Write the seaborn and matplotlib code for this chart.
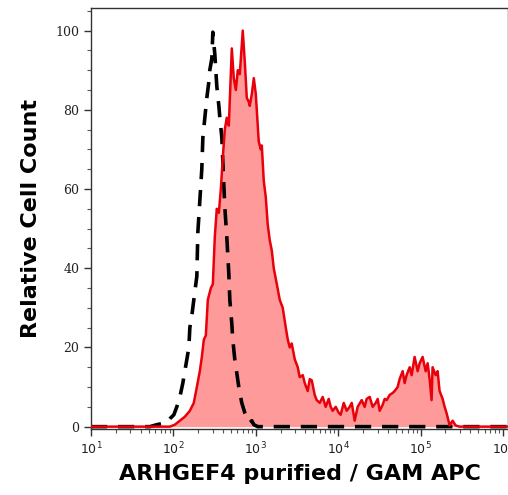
import numpy as np
import pandas as pd
import seaborn as sns
import matplotlib.pyplot as plt
from matplotlib.ticker import MultipleLocator, LogLocator

# red (stained) histogram: log10 fluorescence vs relative count
red_log10 = [1.000, 1.958, 2.018, 2.079, 2.139, 2.200, 2.248, 2.285, 2.321, 2.345,
             2.370, 2.394, 2.418, 2.455, 2.479, 2.503, 2.527, 2.552, 2.576, 2.600,
             2.624, 2.648, 2.673, 2.709, 2.733, 2.758, 2.782, 2.806, 2.842, 2.867,
             2.891, 2.915, 2.927, 2.952, 2.976, 3.000, 3.012, 3.036, 3.061, 3.073,
             3.097, 3.121, 3.145, 3.170, 3.194, 3.218, 3.255, 3.291, 3.327, 3.364,
             3.388, 3.412, 3.436, 3.473, 3.509, 3.533, 3.570, 3.594, 3.630, 3.655,
             3.679, 3.715, 3.739, 3.776, 3.812, 3.848, 3.885, 3.909, 3.933, 3.970,
             4.006, 4.030, 4.067, 4.103, 4.139, 4.164, 4.200, 4.236, 4.285, 4.321,
             4.345, 4.382, 4.418, 4.455, 4.479, 4.503, 4.539, 4.564, 4.588, 4.624,
             4.661, 4.685, 4.721, 4.745, 4.782, 4.806, 4.830, 4.867, 4.891, 4.927,
             4.964, 4.988, 5.024, 5.061, 5.085, 5.109, 5.133, 5.145, 5.182, 5.206,
             5.230, 5.267, 5.291, 5.315, 5.352, 5.388, 5.424, 5.473, 6.055]
red_count = [0, 0, 0.5, 1.5, 2.5, 4, 6, 10, 14, 17.5,
             22, 23, 32, 35, 36, 48, 55, 54, 60, 68,
             75, 78, 76, 95.5, 88, 85, 90, 89, 100, 92,
             83, 82, 81, 84, 88, 84, 80, 72, 70, 71,
             62, 58, 51, 47, 44.5, 40, 36, 32, 30, 25,
             22, 20, 21, 17, 15, 12.5, 13, 11, 9, 12,
             11.7, 8, 6.7, 6, 7.5, 5, 7, 5, 4, 5,
             3.5, 3, 6, 4, 5, 6, 1.5, 5, 6.7, 5,
             7, 7.5, 5, 6, 7, 4, 5.5, 7, 6.7, 8,
             8.5, 9, 10, 12, 14, 11, 13, 15, 13, 17.6,
             14, 16, 17.6, 14, 16, 12, 6.7, 15, 13, 14,
             9, 7, 5, 3.4, 0.3, 1.5, 0.3, 0, 0]

# black dashed (control) histogram
black_log10 = [1.000, 1.715, 1.800, 1.873, 1.921, 1.958, 2.006, 2.042, 2.079, 2.115,
               2.139, 2.164, 2.188, 2.200, 2.224, 2.248, 2.285, 2.297, 2.321, 2.345,
               2.358, 2.382, 2.406, 2.430, 2.442, 2.467, 2.479, 2.503, 2.527, 2.552,
               2.564, 2.588, 2.600, 2.624, 2.648, 2.673, 2.685, 2.709, 2.721, 2.745,
               2.770, 2.794, 2.830, 2.867, 2.903, 2.927, 2.952, 2.976, 3.024, 6.055]
black_count = [0, 0, 0.5, 0.8, 1, 2, 3, 5, 7.5, 11,
               14, 17, 20, 25, 28, 32, 38, 49, 57, 65,
               73, 78, 83, 87, 90, 93, 99.6, 94, 86, 81,
               78, 73, 67, 55.5, 48, 38.6, 32, 26, 22, 17,
               13.5, 10, 6, 3.5, 2, 1, 1.5, 0.5, 0, 0]

red = pd.DataFrame({"x": 10 ** np.array(red_log10), "y": red_count})
black = pd.DataFrame({"x": 10 ** np.array(black_log10), "y": black_count})

sns.set_style("ticks")
plt.rcParams['mathtext.fontset'] = 'dejavuserif'

fig = plt.figure(figsize=(5.08, 4.95), dpi=100)
ax = fig.add_axes([0.179, 0.1333, 0.821, 0.8505])

ax.fill_between(red["x"], red["y"], color="#ff9a9a", linewidth=0, zorder=1)
sns.lineplot(data=black, x="x", y="y", ax=ax, color="black", linewidth=2.6,
             estimator=None, sort=False, zorder=2)
ax.lines[-1].set_dashes((4.5, 3))
sns.lineplot(data=red, x="x", y="y", ax=ax, color="#e8000b", linewidth=1.8,
             estimator=None, sort=False, zorder=3)

ax.set_xscale("log")
ax.set_xlim(10 ** 1, 10 ** 6.06)
ax.set_ylim(-0.6, 105.7)
ax.xaxis.set_major_locator(LogLocator(base=10, numticks=10))
ax.xaxis.set_minor_locator(LogLocator(base=10, subs=np.arange(2, 10), numticks=20))
ax.yaxis.set_major_locator(MultipleLocator(20))
ax.yaxis.set_minor_locator(MultipleLocator(5))

ax.tick_params(axis="both", which="major", length=5, width=1, color="#333333",
               labelsize=9, labelcolor="#222222")
ax.tick_params(axis="both", which="minor", length=3, width=0.8, color="#555555")
for lab in ax.get_yticklabels():
    lab.set_family("DejaVu Serif")
for s in ax.spines.values():
    s.set_color("#333333")
    s.set_linewidth(1)

ax.set_xlabel("ARHGEF4 purified / GAM APC", fontsize=16, fontweight="bold",
              color="black", labelpad=5)
ax.set_ylabel("Relative Cell Count", fontsize=16, fontweight="bold",
              color="black", labelpad=10)

plt.savefig("out.png", dpi=100)
